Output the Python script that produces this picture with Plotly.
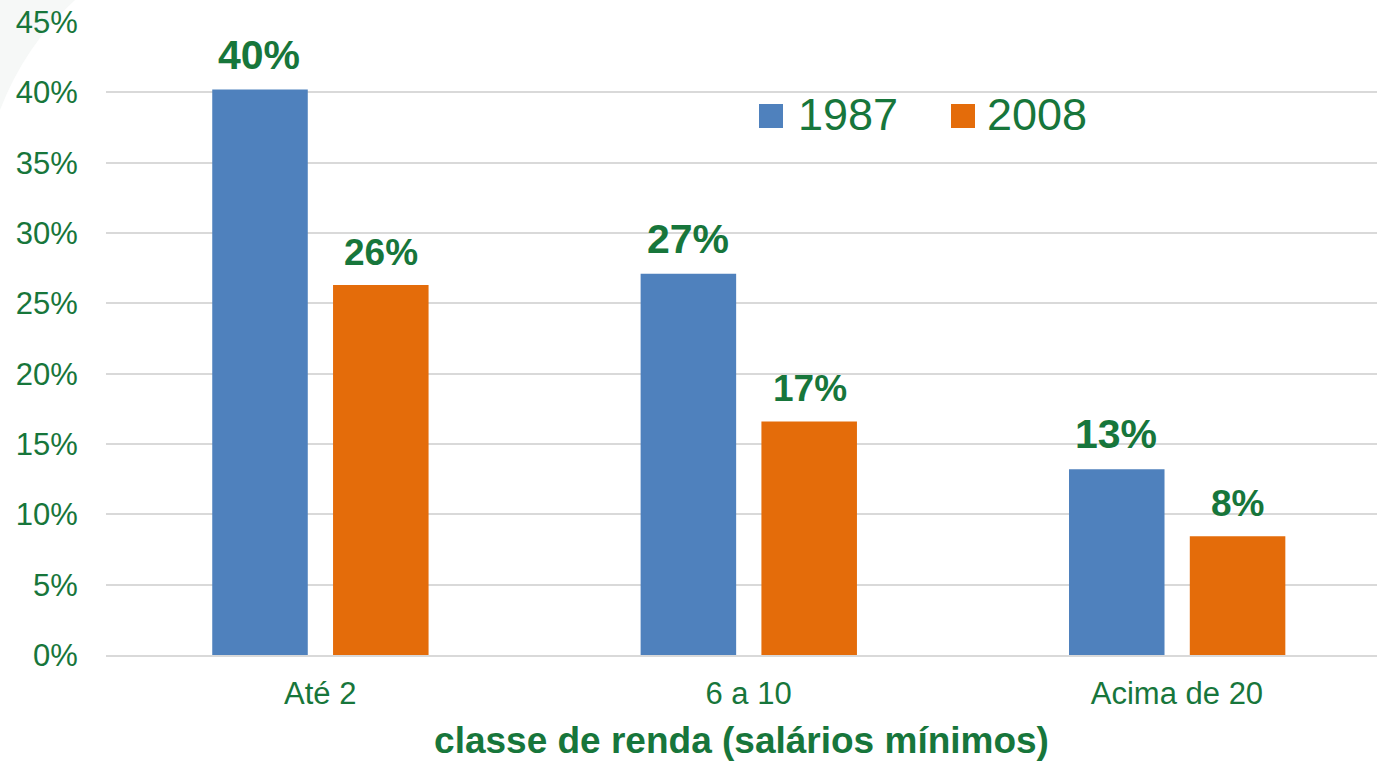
import plotly.graph_objects as go

categories = ["Até 2", "6 a 10", "Acima de 20"]
series_names = ["1987", "2008"]
values_1987 = [40.2, 27.1, 13.2]
values_2008 = [26.3, 16.6, 8.45]
y_ticks = [0, 5, 10, 15, 20, 25, 30, 35, 40, 45]

colors = ["#4f81bd", "#e46c0a"]
green = "#17763b"
font_family = "Liberation Sans, Arial, sans-serif"

x_idx = list(range(len(categories)))

fig = go.Figure()
series = [values_1987, values_2008]
offsets = [-0.252, 0.030]
label_sizes = [41, 37]
label_xshift = [-61, 61]

for name, vals, col, off in zip(series_names, series, colors, offsets):
    fig.add_trace(go.Bar(
        x=x_idx, y=vals, name=name, marker=dict(color=col, line=dict(width=0)),
        offset=off, width=0.223, showlegend=False, hoverinfo="skip",
    ))

annotations = []
for vals, size, xs in zip(series, label_sizes, label_xshift):
    for xi, v in zip(x_idx, vals):
        annotations.append(dict(
            x=xi, y=v, xref="x", yref="y", text=f"<b>{v:.0f}%</b>",
            showarrow=False, xanchor="center", yanchor="bottom",
            xshift=xs, yshift=10, font=dict(size=size, color=green, family=font_family),
        ))

# legend (manual, large squares)
def px_x(px):
    return (px - 106) / 1271

def px_y(py):
    return (655 - py) / 633

legend_sq = [(759, 783), (951, 975)]
legend_text_x = [796, 985]
shapes = []
# faint background decoration top-left
shapes.append(dict(
    type="path", xref="paper", yref="paper", layer="below",
    path=f"M {px_x(0)},{px_y(0)} L {px_x(75)},{px_y(0)} Q {px_x(25)},{px_y(45)} {px_x(0)},{px_y(110)} Z",
    fillcolor="#f6f8f7", line=dict(width=0),
))
for (a, b), col, tx, name in zip(legend_sq, colors, legend_text_x, series_names):
    shapes.append(dict(type="rect", xref="paper", yref="paper",
                       x0=px_x(a), x1=px_x(b), y0=px_y(128), y1=px_y(104),
                       fillcolor=col, line=dict(width=0)))
    annotations.append(dict(
        x=px_x(tx), y=px_y(114), xref="paper", yref="paper", text=name,
        showarrow=False, xanchor="left", yanchor="middle",
        font=dict(size=45, color=green, family=font_family),
    ))

fig.update_layout(
    width=1377, height=761,
    margin=dict(l=106, r=0, t=22, b=106),
    paper_bgcolor="white", plot_bgcolor="white",
    barmode="overlay",
    font=dict(family=font_family, color=green),
    annotations=annotations, shapes=shapes,
    showlegend=False,
)
fig.update_xaxes(
    range=[-0.5, 2.467], tickmode="array", tickvals=x_idx, ticktext=categories,
    tickfont=dict(size=31, color=green, family=font_family),
    ticks="outside", ticklen=10, tickcolor="rgba(0,0,0,0)",
    showgrid=False, zeroline=False, showline=True, linecolor="#d9d9d9", linewidth=2,
    title=dict(text="<b>classe de renda (salários mínimos)</b>",
               font=dict(size=37, color=green, family=font_family), standoff=18),
)
fig.update_yaxes(
    range=[0, 45], tickmode="array", tickvals=y_ticks, ticktext=[f"{t}%" for t in y_ticks],
    tickfont=dict(size=31, color=green, family=font_family),
    ticks="outside", ticklen=21, tickcolor="rgba(0,0,0,0)",
    showgrid=True, gridcolor="#d9d9d9", gridwidth=2, zeroline=False, showline=False,
)

fig.write_html(
    "out.html",
    config={"displayModeBar": False},
    post_script="document.body.style.margin='0';document.body.style.padding='0';document.body.style.overflow='hidden';",
)
